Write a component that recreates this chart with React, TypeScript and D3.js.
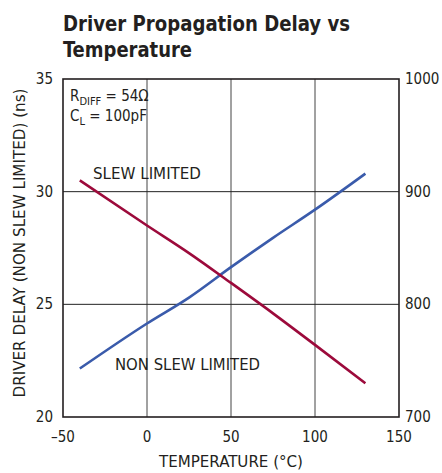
import React from 'react';
import * as d3 from 'd3';

// temperature (°C)
const temps = [-40, 0, 25, 50, 75, 100, 130];
// driver delay, non slew limited (ns, left axis)
const nonSlew = [22.15, 24.15, 25.3, 26.65, 27.95, 29.2, 30.8];
// driver delay, slew limited (right axis)
const slew = [910, 870, 845.5, 819, 792, 764, 730];

const xTicks = [-50, 0, 50, 100, 150];
const yTicks = [20, 25, 30, 35];
const y2Ticks = [700, 800, 900, 1000];

const W = 442;
const H = 473;
const m = { left: 63, right: 399, top: 79, bottom: 417 };
const font = "'Liberation Sans Narrow', 'DejaVu Sans Condensed', 'Arial Narrow', sans-serif";
const ink = '#231f20';

const App = () => {
  const x = d3.scaleLinear().domain([-50, 150]).range([m.left, m.right]);
  const y = d3.scaleLinear().domain([20, 35]).range([m.bottom, m.top]);
  const y2 = d3.scaleLinear().domain([700, 1000]).range([m.bottom, m.top]);

  const line = d3.line<[number, number]>()
    .x(d => x(d[0]))
    .y(d => y(d[1]))
    .curve(d3.curveMonotoneX);
  const line2 = d3.line<[number, number]>()
    .x(d => x(d[0]))
    .y(d => y2(d[1]))
    .curve(d3.curveMonotoneX);

  const blue = temps.map((t, i) => [t, nonSlew[i]] as [number, number]);
  const red = temps.map((t, i) => [t, slew[i]] as [number, number]);
  const midY = (m.top + m.bottom) / 2;

  return (
    <svg width={W} height={H} style={{ position: 'absolute', left: 0, top: 0, background: '#fff' }}
      fontFamily={font} fill={ink}>
      <text x={63} y={31} fontSize={22} fontWeight="bold" textLength={287} lengthAdjust="spacingAndGlyphs">
        Driver Propagation Delay vs
      </text>
      <text x={63} y={57} fontSize={22} fontWeight="bold" textLength={129} lengthAdjust="spacingAndGlyphs">
        Temperature
      </text>

      {/* grid */}
      {xTicks.slice(1, -1).map(t => (
        <line key={'gx' + t} x1={x(t)} x2={x(t)} y1={m.top} y2={m.bottom} stroke="#444" strokeWidth={1} />
      ))}
      {yTicks.slice(1, -1).map(t => (
        <line key={'gy' + t} x1={m.left} x2={m.right} y1={y(t)} y2={y(t)} stroke="#222" strokeWidth={1} />
      ))}

      <path d={line(blue) || ''} fill="none" stroke="#3a5bab" strokeWidth={2.6} />
      <path d={line2(red) || ''} fill="none" stroke="#9c0a3b" strokeWidth={2.6} />

      <rect x={m.left} y={m.top} width={m.right - m.left} height={m.bottom - m.top}
        fill="none" stroke={ink} strokeWidth={1.6} />

      {/* ticks */}
      {xTicks.map(t => (
        <text key={'xt' + t} x={x(t)} y={442} fontSize={15} textAnchor="middle">
          {t < 0 ? '\u2013' + Math.abs(t) : t}
        </text>
      ))}
      {yTicks.map(t => (
        <text key={'yt' + t} x={53} y={y(t) + 5} fontSize={15} textAnchor="end">{t}</text>
      ))}
      {y2Ticks.map(t => (
        <text key={'y2t' + t} x={405} y={y2(t) + 5} fontSize={15} textAnchor="start">{t}</text>
      ))}

      <text x={231} y={467} fontSize={15} textAnchor="middle" textLength={144} lengthAdjust="spacingAndGlyphs">
        TEMPERATURE (°C)
      </text>
      <text transform={`translate(25,243) rotate(-90)`} fontSize={15} textAnchor="middle"
        textLength={309} lengthAdjust="spacingAndGlyphs">
        DRIVER DELAY (NON SLEW LIMITED) (ns)
      </text>
      <text transform={`translate(450,${midY + 60}) rotate(90)`} fontSize={15} textAnchor="middle">
        DRIVER DELAY (SLEW LIMITED) (ps)
      </text>

      <text x={70} y={101} fontSize={15}>
        R<tspan fontSize={11} dy={4}>DIFF</tspan><tspan dy={-4}> = 54Ω</tspan>
      </text>
      <text x={70} y={121} fontSize={15}>
        C<tspan fontSize={11} dy={4}>L</tspan><tspan dy={-4}> = 100pF</tspan>
      </text>
      <text x={93} y={179} fontSize={16} textLength={108} lengthAdjust="spacingAndGlyphs">SLEW LIMITED</text>
      <text x={115} y={370} fontSize={16} textLength={145} lengthAdjust="spacingAndGlyphs">NON SLEW LIMITED</text>
    </svg>
  );
};

export default App;
